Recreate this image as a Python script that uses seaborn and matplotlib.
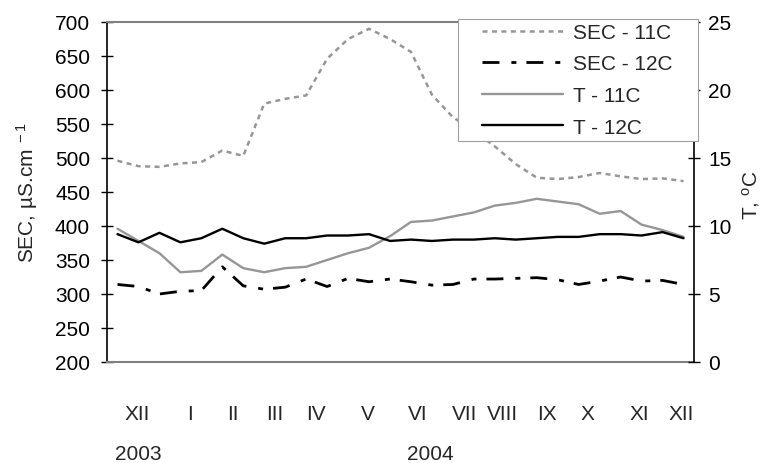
# SEC and water temperature, springs 11C and 12C, Dec 2003 - Dec 2004
import numpy as np
import pandas as pd
import matplotlib
matplotlib.use("Agg")
import matplotlib.pyplot as plt
import matplotlib.transforms as mtransforms
from matplotlib.patches import Rectangle
import seaborn as sns

# ---------------- data ----------------
sec_11c = [496, 488, 487, 492, 494, 511, 503, 580, 587, 592, 646, 675, 690, 675,
           656, 593, 560, 540, 517, 491, 471, 469, 472, 478, 473, 469, 470, 466]
sec_12c = [314, 311, 300, 304, 305, 340, 312, 307, 310, 322, 311, 323, 318, 322,
           318, 313, 314, 322, 322, 323, 324, 321, 314, 319, 325, 319, 320, 314]
t_11c = [9.8, 8.9, 8.0, 6.6, 6.7, 7.9, 6.9, 6.6, 6.9, 7.0, 7.5, 8.0, 8.4, 9.25,
         10.3, 10.4, 10.7, 11.0, 11.5, 11.7, 12.0, 11.8, 11.6, 10.9, 11.1, 10.1, 9.7, 9.2]
t_12c = [9.4, 8.8, 9.5, 8.8, 9.1, 9.8, 9.1, 8.7, 9.1, 9.1, 9.3, 9.3, 9.4, 8.9,
         9.0, 8.9, 9.0, 9.0, 9.1, 9.0, 9.1, 9.2, 9.2, 9.4, 9.4, 9.3, 9.55, 9.1]

# month labels sit at these sample positions
month_labels = ["XII", "I", "II", "III", "IV", "V", "VI", "VII", "VIII",
                "IX", "X", "XI", "XII"]
month_pos = [0.95, 3.48, 5.49, 7.49, 9.49, 11.93, 14.31, 16.56, 18.37,
             20.47, 22.42, 24.9, 26.9]
year_labels = ["2003", "2004"]
year_pos = [1.0, 14.9]

series_names = ["SEC - 11C", "SEC - 12C", "T - 11C", "T - 12C"]

df = pd.DataFrame({
    "idx": np.arange(len(sec_11c)),
    "SEC - 11C": sec_11c,
    "SEC - 12C": sec_12c,
    "T - 11C": t_11c,
    "T - 12C": t_12c,
})

# ---------------- style ----------------
sns.set_style("white")
plt.rcParams["font.family"] = ["Liberation Sans", "DejaVu Sans"]
plt.rcParams["mathtext.fontset"] = "custom"
plt.rcParams["mathtext.rm"] = "Liberation Sans"
plt.rcParams["mathtext.it"] = "Liberation Sans:italic"
plt.rcParams["lines.scale_dashes"] = False

FS = 15
GRAY = "#969696"

fig = plt.figure(figsize=(7.67, 4.64), dpi=100)
ax = fig.add_axes([107 / 767, 1 - 363 / 464, 587 / 767, 340 / 464])
ax2 = ax.twinx()

# ---------------- lines ----------------
sns.lineplot(data=df, x="idx", y="SEC - 11C", ax=ax, color=GRAY, lw=1.8,
             linestyle=(0, (3.6, 3.2)), errorbar=None, legend=False)
sns.lineplot(data=df, x="idx", y="SEC - 12C", ax=ax, color="black", lw=2.0,
             linestyle=(0, (12.2, 8.6, 3.6, 7.2)), errorbar=None, legend=False)
sns.lineplot(data=df, x="idx", y="T - 11C", ax=ax2, color=GRAY, lw=1.7,
             errorbar=None, legend=False)
sns.lineplot(data=df, x="idx", y="T - 12C", ax=ax2, color="black", lw=1.7,
             errorbar=None, legend=False)

handles = ax.lines[:2] + ax2.lines[:2]

# ---------------- axes ----------------
ax.set_xlim(-0.5, len(sec_11c) - 0.5)
ax.set_ylim(200, 700)
ax.set_yticks(np.arange(200, 701, 50))
ax2.set_ylim(0, 25)
ax2.set_yticks(np.arange(0, 26, 5))
ax.set_xlabel("")
ax.set_ylabel("")
ax2.set_ylabel("")

ax.set_xticks(month_pos)
ax.set_xticklabels(month_labels)
ax.tick_params(axis="x", length=0, pad=30, labelsize=FS)
ax.tick_params(axis="y", direction="inout", length=8.6, width=1.0,
               pad=7.9, labelsize=FS, colors="black")
ax2.tick_params(axis="y", direction="inout", length=8.6, width=1.0,
                pad=5.7, labelsize=FS, colors="black")

for s in ["top", "bottom"]:
    ax.spines[s].set_color("#808080")
    ax.spines[s].set_linewidth(1.5)
    ax2.spines[s].set_visible(False)
ax.spines["left"].set_color("black")
ax.spines["left"].set_linewidth(1.2)
ax.spines["right"].set_visible(False)
ax2.spines["left"].set_visible(False)
ax2.spines["right"].set_color("black")
ax2.spines["right"].set_linewidth(1.2)

# year labels below months
trans = mtransforms.blended_transform_factory(ax.transData, ax.transAxes)
for xp, lab in zip(year_pos, year_labels):
    ax.text(xp, (363 - 455) / 340, lab, transform=trans, ha="center",
            va="center", fontsize=FS)

# axis titles
fig.text(27 / 767, 1 - 192 / 464, r"SEC, µS.cm$^{\ -1}$", rotation=90,
         ha="center", va="center", fontsize=FS)
fig.text(751 / 767, 1 - 195 / 464, r"T, $^{\mathrm{o}}$C", rotation=90,
         ha="center", va="center", fontsize=FS)

# ---------------- legend ----------------
box = Rectangle((457.7 / 767, 1 - 141.7 / 464), (698 - 457.7) / 767,
                (141.7 - 20) / 464, transform=fig.transFigure,
                facecolor="white", edgecolor="#a0a0a0", lw=0.8,
                clip_on=False, zorder=4.5)
ax2.add_patch(box)
leg = ax2.legend(handles, series_names, loc="upper left",
                 bbox_to_anchor=(481.7 / 767, 1 - 24 / 464),
                 bbox_transform=fig.transFigure, frameon=False,
                 borderpad=0, borderaxespad=0, handlelength=3.9,
                 handletextpad=0.48, labelspacing=0.6, fontsize=FS)
leg.set_zorder(5)

fig.savefig("out.png", dpi=100)
